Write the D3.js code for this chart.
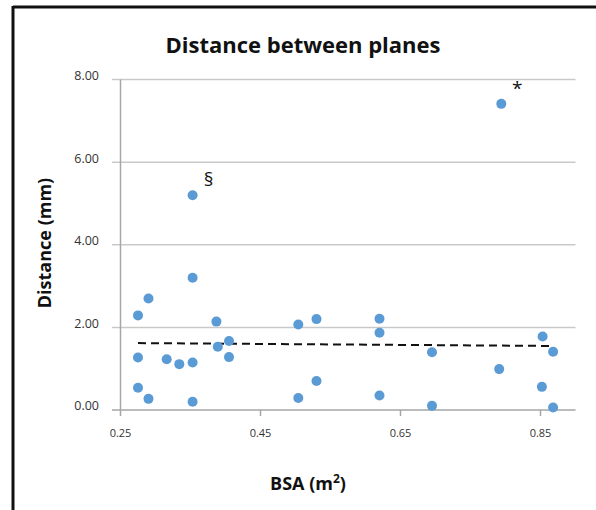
<!DOCTYPE html>
<html>
<head>
<meta charset="utf-8">
<script src="https://cdn.jsdelivr.net/npm/d3@7"></script>
<style>
  body { margin: 0; background: #fff; }
  svg { display: block; font-family: "Open Sans", "Liberation Sans", sans-serif; }
</style>
</head>
<body>
<div id="chart"></div>
<script>
// values
const bsa = [0.275, 0.275, 0.275, 0.290, 0.290, 0.316, 0.334, 0.353, 0.353, 0.353, 0.353,
             0.387, 0.389, 0.405, 0.405, 0.504, 0.504, 0.530, 0.530, 0.620, 0.620, 0.620,
             0.695, 0.695, 0.791, 0.794, 0.852, 0.853, 0.868, 0.868]
const distance = [2.29, 1.27, 0.54, 2.70, 0.27, 1.23, 1.11, 5.20, 3.20, 1.15, 0.20,
                  2.14, 1.53, 1.67, 1.28, 2.07, 0.29, 2.20, 0.70, 2.21, 1.87, 0.35,
                  1.40, 0.10, 0.99, 7.41, 0.56, 1.78, 1.41, 0.06]
const trend_x = [0.275, 0.868]
const trend_y = [1.62, 1.55]
const x_ticks = [0.25, 0.45, 0.65, 0.85]
const y_ticks = [0, 2, 4, 6, 8]
const marks = [{bsa: 0.353, d: 5.20, text: '§'}, {bsa: 0.794, d: 7.41, text: '*'}]

const W = 596, H = 510

let svg = d3.select('#chart').append('svg')
    .attr('width', W)
    .attr('height', H)

// frame (top + left only)
svg.append('line').attr('x1', 13).attr('x2', W).attr('y1', 7).attr('y2', 7)
    .attr('stroke', '#111').attr('stroke-width', 3)
svg.append('line').attr('x1', 13).attr('x2', 13).attr('y1', 6).attr('y2', H)
    .attr('stroke', '#111').attr('stroke-width', 3)

let x_scale = d3.scaleLinear().domain([0.25, 0.25 + 455 / 700]).range([120.5, 575.5])
let y_scale = d3.scaleLinear().domain([0, 8]).range([410, 79.5])

// gridlines
svg.append('g')
    .selectAll('line')
    .data(y_ticks)
    .enter().append('line')
    .attr('x1', 112)
    .attr('x2', 575.5)
    .attr('y1', d => y_scale(d))
    .attr('y2', d => y_scale(d))
    .attr('stroke', d => d === 0 ? '#a6a6a6' : '#c9c9c9')
    .attr('stroke-width', 1.5)

// y axis line
svg.append('line')
    .attr('x1', 120.5).attr('x2', 120.5)
    .attr('y1', y_scale(8)).attr('y2', y_scale(0))
    .attr('stroke', '#a6a6a6').attr('stroke-width', 1.5)

// y tick labels
svg.append('g')
    .selectAll('text')
    .data(y_ticks)
    .enter().append('text')
    .attr('x', 99)
    .attr('y', d => y_scale(d) - 4)
    .attr('dy', '0.35em')
    .attr('text-anchor', 'end')
    .attr('font-size', 12.5)
    .attr('fill', '#333')
    .text(d => d3.format('.2f')(d))

// x ticks + labels
let xt = svg.append('g')
    .selectAll('g')
    .data(x_ticks)
    .enter().append('g')
    .attr('transform', d => `translate(${x_scale(d)},0)`)
xt.append('line')
    .attr('y1', 410).attr('y2', 416)
    .attr('stroke', '#a6a6a6').attr('stroke-width', 1.5)
xt.append('text')
    .attr('y', 437)
    .attr('text-anchor', 'middle')
    .attr('font-size', 11)
    .attr('fill', '#333')
    .text(d => d3.format('.2f')(d))

// trend line
svg.append('line')
    .attr('x1', x_scale(trend_x[0])).attr('x2', x_scale(trend_x[1]))
    .attr('y1', y_scale(trend_y[0])).attr('y2', y_scale(trend_y[1]))
    .attr('stroke', '#111')
    .attr('stroke-width', 2)
    .attr('stroke-dasharray', '8,5')

// points
svg.append('g')
    .selectAll('circle')
    .data(bsa.map((b, i) => ({bsa: b, d: distance[i]})))
    .enter().append('circle')
    .attr('cx', d => x_scale(d.bsa))
    .attr('cy', d => y_scale(d.d))
    .attr('r', 5)
    .style('fill', '#5b9bd5')

// annotations
svg.append('g')
    .selectAll('text')
    .data(marks)
    .enter().append('text')
    .attr('x', d => x_scale(d.bsa) + 16)
    .attr('y', d => y_scale(d.d) - 9)
    .attr('text-anchor', 'middle')
    .attr('font-size', 19)
    .attr('fill', '#111')
    .text(d => d.text)

// title
svg.append('text')
    .attr('x', 303)
    .attr('y', 53)
    .attr('text-anchor', 'middle')
    .attr('font-size', 22)
    .attr('font-weight', 'bold')
    .attr('fill', '#111')
    .text('Distance between planes')

// axis titles
svg.append('text')
    .attr('text-anchor', 'middle')
    .attr('transform', 'translate(51, 243) rotate(-90)')
    .attr('font-size', 18)
    .attr('font-weight', 'bold')
    .attr('fill', '#111')
    .text('Distance (mm)')

let xl = svg.append('text')
    .attr('x', 308)
    .attr('y', 490)
    .attr('text-anchor', 'middle')
    .attr('font-size', 18)
    .attr('font-weight', 'bold')
    .attr('fill', '#111')
xl.append('tspan').text('BSA (m')
xl.append('tspan').attr('font-size', 12).attr('dy', -7).text('2')
xl.append('tspan').attr('dy', 7).text(')')
</script>
</body>
</html>
